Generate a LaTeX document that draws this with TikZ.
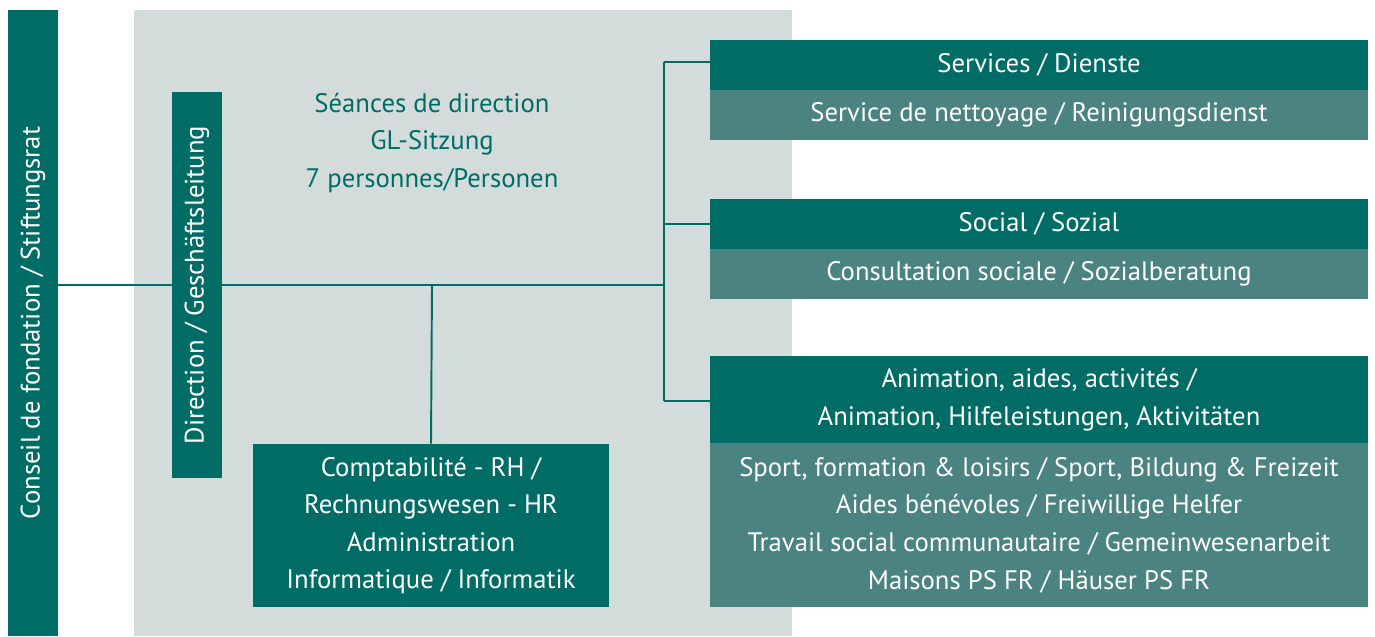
\documentclass[tikz,border=0pt]{standalone}
\usepackage{fontspec}
\setmainfont{PT Sans}
\usepackage{tikz}
\usetikzlibrary{calc}
\definecolor{tealdark}{HTML}{006C66}
\definecolor{teallight}{HTML}{4A8380}
\definecolor{panelgray}{HTML}{D3DBDB}
\tikzset{
  orgtext/.style={font=\fontsize{15.2}{21.4}\selectfont, text=white, align=center, inner sep=0pt},
  headbox/.style={orgtext, fill=tealdark, minimum width=13.16cm},
  subbox/.style={orgtext, fill=teallight, minimum width=13.16cm},
  barbox/.style={orgtext, fill=tealdark, rotate=90, minimum height=1cm},
  link/.style={draw=tealdark, line width=1.1pt}
}

\begin{document}
\begin{tikzpicture}[x=0.02cm, y=-0.02cm]
			%%%%% FRAME %%%%%
			\useasboundingbox (0, 0) rectangle (1375, 636);
			\fill[panelgray] (134, 10) rectangle (792, 636);
			
			%%%%% BARS %%%%%
			\node[barbox, minimum width=12.52cm] (conseil) at (33, 323) {Conseil de fondation / Stiftungsrat};
			\node[barbox, minimum width=7.72cm] (direction) at (197, 285) {Direction / Geschäftsleitung};
			
			\node[orgtext, text=tealdark] (seances) at (432, 143) {Séances de direction\\GL-Sitzung\\7 personnes/Personen};
			
			\node[headbox, minimum height=3.26cm, minimum width=7.12cm] (compta) at (431, 525.5) {Comptabilité - RH /\\Rechnungswesen - HR\\Administration\\Informatique / Informatik};
			
			%%%%% RIGHT BOXES %%%%%
			\node[headbox, minimum height=1cm] (services) at (1039, 65) {Services / Dienste};
			\node[subbox, minimum height=1cm] (nettoyage) at (1039, 115) {Service de nettoyage / Reinigungsdienst};
			
			\node[headbox, minimum height=1cm] (social) at (1039, 224) {Social / Sozial};
			\node[subbox, minimum height=1cm] (consult) at (1039, 274) {Consultation sociale / Sozialberatung};
			
			\node[headbox, minimum height=1.74cm] (animation) at (1039, 399.5) {Animation, aides, activités /\\Animation, Hilfeleistungen, Aktivitäten};
			\node[subbox, minimum height=3.28cm] (activites) at (1039, 525) {Sport, formation \& loisirs / Sport, Bildung \& Freizeit\\Aides bénévoles / Freiwillige Helfer\\Travail social communautaire / Gemeinwesenarbeit\\Maisons PS FR / Häuser PS FR};
			
			%%%%% LINKS %%%%%
			\coordinate (hub) at (432, 285);
			\coordinate (fork) at (664, 285);
			\coordinate (forktop) at (664, 62);
			\coordinate (forkbot) at (664, 401);
			
			\draw[link] (conseil.south |- hub) -- (direction.north |- hub);
			\draw[link] (direction.south |- hub) -- (fork);
			\draw[link] (hub) -- (compta.north);
			\draw[link] (forktop) -- (forkbot);
			\draw[link] (forktop) -- (forktop -| services.west);
			\draw[link] (fork |- social.west) -- (social.west);
			\draw[link] (forkbot) -- (forkbot -| animation.west);
			
		\end{tikzpicture}
\end{document}
